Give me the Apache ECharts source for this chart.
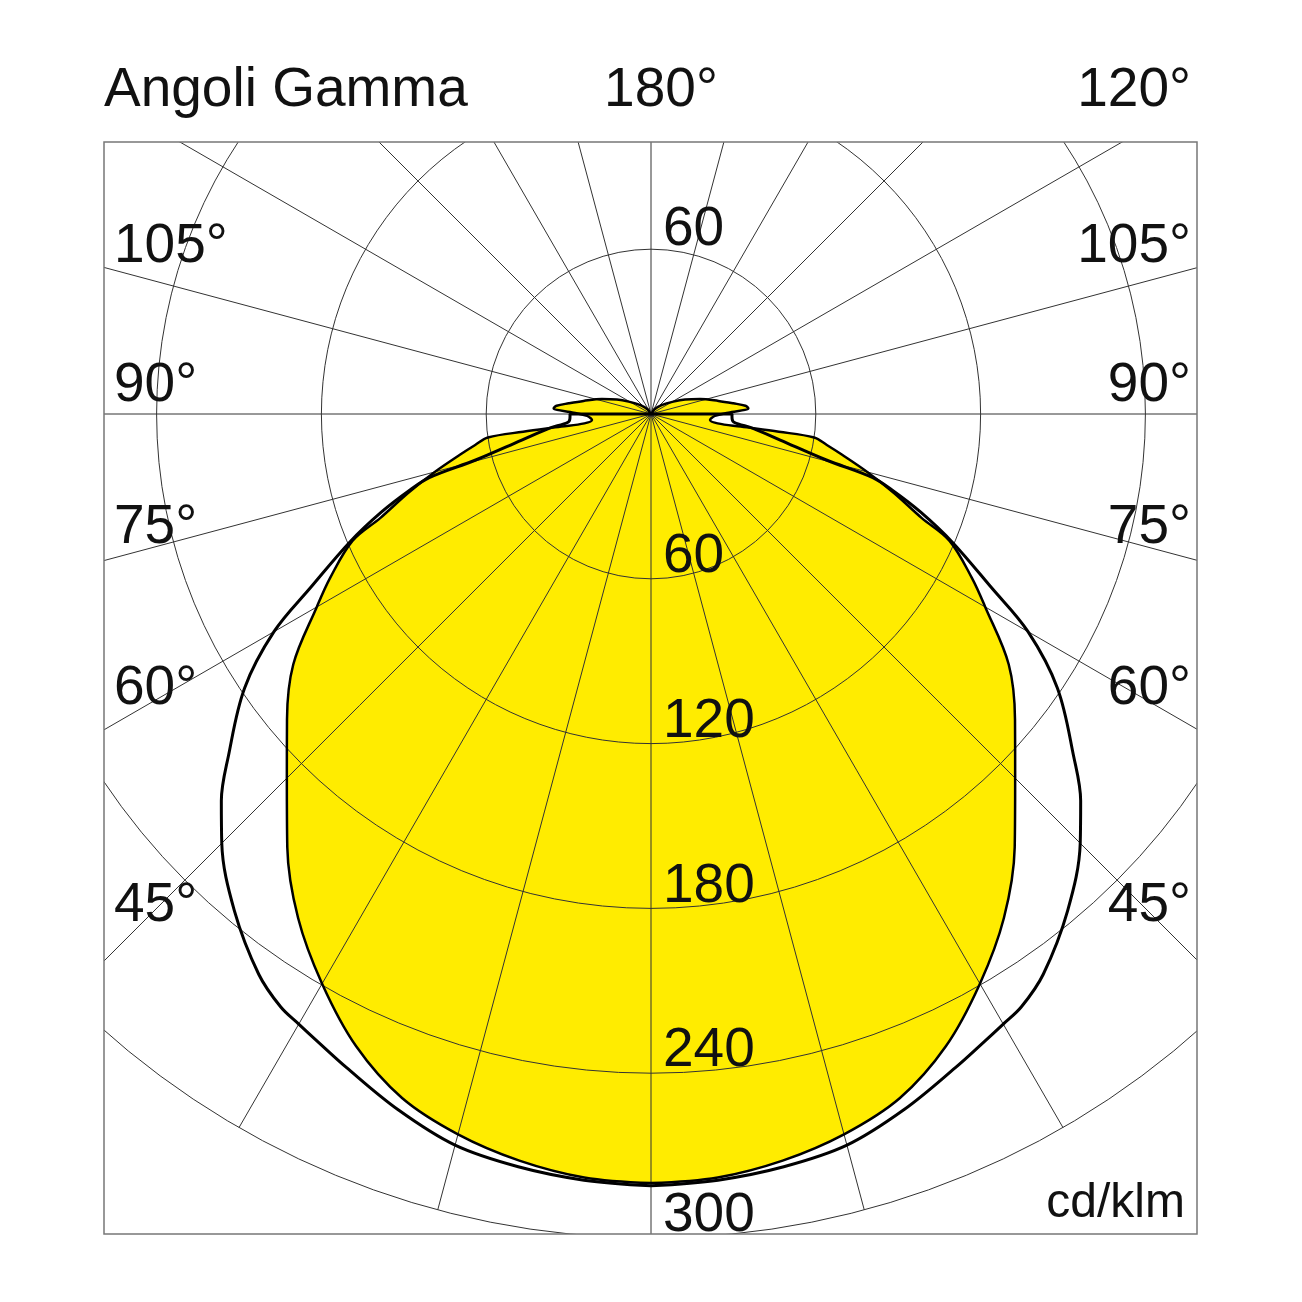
<!DOCTYPE html>
<html>
<head>
<meta charset="utf-8">
<title>Angoli Gamma</title>
<script src="https://cdn.jsdelivr.net/npm/echarts@6/dist/echarts.min.js"></script>
<style>
  html, body { margin: 0; padding: 0; background: #fff; }
  #main { width: 1302px; height: 1302px; }
</style>
</head>
<body>
<div id="main"></div>
<script>
  // curva gialla (piano C0-180), gamma in gradi, valori in cd/klm
  var yellowGamma = [0, 5, 10, 15, 20, 25, 30, 35, 40, 45, 50, 55, 60, 63, 67, 69, 72, 75, 78, 80, 81.8, 82.1, 82, 82, 84.2, 86, 88.3, 91, 93.4, 95, 97.4, 101, 107, 113, 119, 130, 145, 180];
  var yellowValues = [280, 279, 276, 271.5, 265, 254, 239.5, 224, 206, 187.5, 173, 159, 140.5, 131, 118, 105.5, 93, 81.5, 71, 65, 60, 47, 33, 24.5, 21.6, 22, 23.3, 28.2, 35.5, 34.5, 30.2, 25, 18.7, 13.5, 9.3, 5, 2, 0];

  // curva nera (piano C90-270)
  var blackGamma = [0, 5, 10, 15, 20, 25, 28, 30, 32, 35, 40, 45, 48, 51, 56, 60, 63, 67, 70, 72.5, 74, 75.3, 78.6, 82, 84.5, 88, 90, 90.3];
  var blackValues = [281, 280, 278.3, 275.6, 269.5, 262.5, 258.7, 256.5, 254.5, 249, 236, 221, 210.5, 198, 178.5, 158.5, 139, 119, 104.5, 92, 84, 66, 48, 37.5, 30.2, 29.5, 29.5, 0];

  var radiusTicks = [60, 120, 180, 240, 300];
  var angleLabelsLeft = ['105°', '90°', '75°', '60°', '45°'];
  var angleLabelsRight = ['105°', '90°', '75°', '60°', '45°'];
  var angleLabelY = [247, 386, 528, 689, 906];

  var cx = 651, cy = 414, R = 824;
  var FONT = '55px "Liberation Sans", Arial, sans-serif';

  // gamma -> angolo: lato destro gamma, lato sinistro 360 - gamma
  function buildLoop(gammas, values) {
    var pts = [];
    for (var i = 0; i < gammas.length; i++) {
      pts.push([values[i], gammas[i]]);
    }
    for (var j = gammas.length - 1; j >= 0; j--) {
      pts.push([values[j], 360 - gammas[j]]);
    }
    return pts;
  }

  function txt(text, x, y, align, font) {
    return {
      type: 'text', x: x, y: y, z: 110, silent: true,
      style: {
        text: text, font: font || FONT, fill: '#111',
        align: align, verticalAlign: 'middle',
        textAlign: align, textVerticalAlign: 'middle'
      }
    };
  }

  var yellowData = buildLoop(yellowGamma, yellowValues);
  var blackData = buildLoop(blackGamma, blackValues);

  var elements = [
    // maschere bianche fuori dal riquadro
    { type: 'rect', z: 100, silent: true, shape: { x: 0, y: 0, width: 1302, height: 142 }, style: { fill: '#fff' } },
    { type: 'rect', z: 100, silent: true, shape: { x: 0, y: 1234, width: 1302, height: 68 }, style: { fill: '#fff' } },
    { type: 'rect', z: 100, silent: true, shape: { x: 0, y: 0, width: 104, height: 1302 }, style: { fill: '#fff' } },
    { type: 'rect', z: 100, silent: true, shape: { x: 1197, y: 0, width: 105, height: 1302 }, style: { fill: '#fff' } },
    // riquadro
    { type: 'rect', z: 101, silent: true, shape: { x: 104, y: 142, width: 1093, height: 1092 }, style: { fill: 'none', stroke: '#777', lineWidth: 1.5 } },
    txt('Angoli Gamma', 104, 91, 'left'),
    txt('180°', 661, 91, 'center'),
    txt('120°', 1191, 91, 'right'),
    txt('cd/klm', 1185, 1204, 'right', '48px "Liberation Sans", Arial, sans-serif'),
    txt('60', 663, 230, 'left')
  ];
  for (var i = 0; i < angleLabelsLeft.length; i++) {
    elements.push(txt(angleLabelsLeft[i], 114, angleLabelY[i], 'left'));
    elements.push(txt(angleLabelsRight[i], 1191, angleLabelY[i], 'right'));
  }
  // etichette radiali lungo l'asse verticale, sopra ogni cerchio
  for (var k = 0; k < radiusTicks.length; k++) {
    elements.push(txt(String(radiusTicks[k]), 663, cy + radiusTicks[k] / 300 * R - 22, 'left'));
  }

  var myChart = echarts.init(document.getElementById('main'));
  var option = {
    backgroundColor: '#fff',
    animation: false,
    polar: { center: [cx, cy], radius: R },
    angleAxis: {
      type: 'value', min: 0, max: 360, interval: 15,
      startAngle: 270, clockwise: false, z: 5,
      axisLine: { show: false },
      axisTick: { show: false },
      axisLabel: { show: false },
      splitLine: { show: true, lineStyle: { color: '#333', width: 1 } }
    },
    radiusAxis: {
      type: 'value', min: 0, max: 300, interval: 60, z: 5,
      axisLine: { show: false },
      axisTick: { show: false },
      axisLabel: { show: false },
      splitLine: { show: true, lineStyle: { color: '#333', width: 1 } }
    },
    series: [
      {
        name: 'C0-180 area', type: 'line', coordinateSystem: 'polar',
        data: yellowData, symbol: 'none', smooth: 0.35, z: 1,
        lineStyle: { width: 0, opacity: 0 },
        areaStyle: { color: '#FFEC00', opacity: 1 }
      },
      {
        name: 'C0-180', type: 'line', coordinateSystem: 'polar',
        data: yellowData, symbol: 'none', smooth: 0.35, z: 8,
        lineStyle: { color: '#000', width: 2.5 }
      },
      {
        name: 'C90-270', type: 'line', coordinateSystem: 'polar',
        data: blackData, symbol: 'none', smooth: 0.35, z: 9,
        lineStyle: { color: '#000', width: 3 }
      }
    ],
    graphic: { elements: elements }
  };
  myChart.setOption(option);
</script>
</body>
</html>
